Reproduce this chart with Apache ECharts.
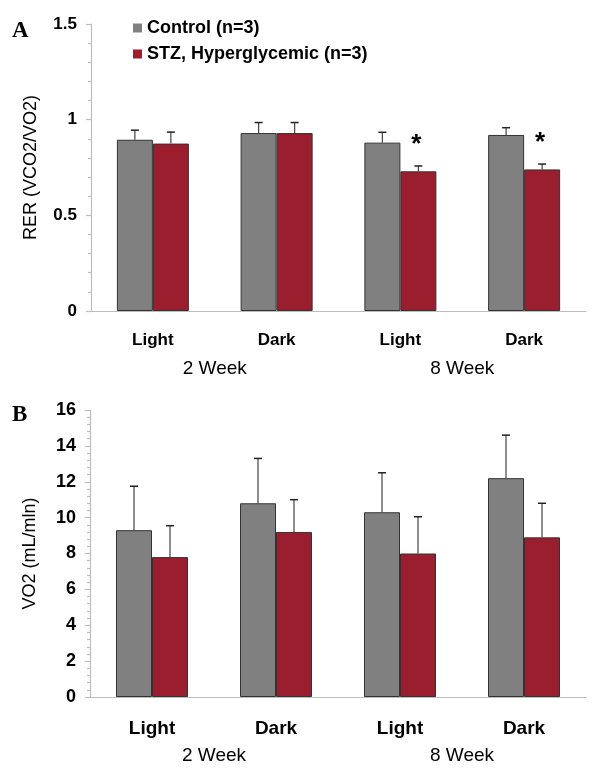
<!DOCTYPE html>
<html>
<head>
    <meta charset="utf-8">
    <title>RER and VO2</title>
    <script src="https://cdn.jsdelivr.net/npm/echarts@6/dist/echarts.min.js"></script>
</head>
<body>
<style>
    html, body, #main {
        width: 100%;
        height: 100%;
        padding: 0;
        margin: 0;
        background: #fff;
    }
</style>
<div id="main"></div>
<script type="text/javascript">

    var categories = ['Light', 'Dark', 'Light', 'Dark'];
    var weeks = ['2 Week', '8 Week'];
    var seriesNames = ['Control (n=3)', 'STZ, Hyperglycemic (n=3)'];

    // panel A - RER
    var rerControl = [0.895, 0.93, 0.88, 0.92];
    var rerControlErr = [0.05, 0.055, 0.054, 0.038];
    var rerStz = [0.875, 0.93, 0.73, 0.74];
    var rerStzErr = [0.06, 0.055, 0.028, 0.028];
    var rerSig = [false, false, true, true];

    // panel B - VO2
    var vo2Control = [9.3, 10.8, 10.3, 12.2];
    var vo2ControlErr = [2.45, 2.5, 2.2, 2.4];
    var vo2Stz = [7.8, 9.2, 8.0, 8.9];
    var vo2StzErr = [1.75, 1.8, 2.05, 1.9];

    var GREY = '#808080';
    var RED = '#9b1e2f';
    var BAR_W = 36;
    var FONT = 'Liberation Sans, Arial, sans-serif';

    var myChart = echarts.init(document.getElementById('main'));

    function errData(vals, errs, sig) {
        return vals.map(function (v, i) {
            return [i, v, errs[i], sig && sig[i] ? 1 : 0];
        });
    }

    function errSeries(gridIdx, vals, errs, offset, sig) {
        return {
            type: 'custom',
            xAxisIndex: gridIdx * 2,
            yAxisIndex: gridIdx,
            z: 5,
            silent: true,
            encode: {x: 0, y: 1},
            data: errData(vals, errs, sig),
            renderItem: function (params, api) {
                var base = api.coord([api.value(0), api.value(1)]);
                var top = api.coord([api.value(0), api.value(1) + api.value(2)]);
                var x = base[0] + offset;
                var children = [
                    {type: 'line', shape: {x1: x, y1: base[1], x2: x, y2: top[1]},
                        style: {stroke: '#444', lineWidth: 1.2}},
                    {type: 'line', shape: {x1: x - 4, y1: top[1], x2: x + 4, y2: top[1]},
                        style: {stroke: '#222', lineWidth: 1.5}}
                ];
                if (api.value(3)) {
                    // significance star above the STZ bar
                    children.push({
                        type: 'text',
                        style: {
                            text: '*', x: x - 2, y: top[1] - 21,
                            fill: '#000', font: 'bold 26px ' + FONT,
                            align: 'center', verticalAlign: 'middle'
                        }
                    });
                }
                return {type: 'group', children: children};
            }
        };
    }

    function barSeries(gridIdx, name, color, vals) {
        return {
            type: 'bar',
            name: name,
            xAxisIndex: gridIdx * 2,
            yAxisIndex: gridIdx,
            barWidth: BAR_W,
            barGap: '0%',
            itemStyle: {color: color, borderColor: '#333', borderWidth: 1},
            data: vals
        };
    }

    var axisLineStyle = {color: '#bdbdbd', width: 1.2};

    function catAxes(gridIdx, fs, fsWeek, margin, marginWeek) {
        return [
            {
                type: 'category',
                gridIndex: gridIdx,
                data: categories,
                axisLine: {lineStyle: axisLineStyle},
                axisTick: {length: 5, lineStyle: axisLineStyle},
                axisLabel: {color: '#000', fontWeight: 'bold', fontSize: fs, fontFamily: FONT, margin: margin}
            },
            {
                type: 'category',
                gridIndex: gridIdx,
                position: 'bottom',
                data: weeks,
                axisLine: {show: false},
                axisTick: {show: false},
                axisLabel: {color: '#000', fontSize: fsWeek, fontFamily: FONT, margin: marginWeek}
            }
        ];
    }

    function valAxis(gridIdx, max, interval, name, fs) {
        return {
            type: 'value',
            gridIndex: gridIdx,
            min: 0,
            max: max,
            interval: interval,
            name: name,
            nameLocation: 'middle',
            nameRotate: 90,
            nameGap: 51,
            nameTextStyle: {color: '#000', fontSize: 18, fontFamily: FONT},
            axisLine: {show: true, lineStyle: axisLineStyle},
            axisTick: {show: true, length: 5, lineStyle: axisLineStyle},
            minorTick: {show: true, splitNumber: 5, length: 3, lineStyle: axisLineStyle},
            splitLine: {show: false},
            axisLabel: {color: '#000', fontWeight: 'bold', fontSize: fs, fontFamily: FONT, margin: 14}
        };
    }

    myChart.setOption({
        animation: false,
        backgroundColor: '#fff',
        textStyle: {fontFamily: FONT},
        legend: {
            data: seriesNames,
            orient: 'vertical',
            left: 128,
            top: 14,
            icon: 'rect',
            itemWidth: 9,
            itemHeight: 9,
            itemGap: 8,
            itemStyle: {borderWidth: 0},
            textStyle: {color: '#000', fontWeight: 'bold', fontSize: 18, lineHeight: 18, fontFamily: FONT}
        },
        graphic: [
            {type: 'text', left: 12, top: 20,
                style: {text: 'A', fill: '#000', font: 'bold 23px Liberation Serif, Times New Roman, serif'}},
            {type: 'text', left: 12, top: 404,
                style: {text: 'B', fill: '#000', font: 'bold 23px Liberation Serif, Times New Roman, serif'}}
        ],
        grid: [
            {left: 91, right: 14, top: 24, height: 287},
            {left: 90, right: 14, top: 410, height: 287}
        ],
        xAxis: catAxes(0, 17, 19, 21, 48).concat(catAxes(1, 19, 19, 22, 49)),
        yAxis: [
            valAxis(0, 1.5, 0.5, 'RER (VCO2/VO2)', 17),
            valAxis(1, 16, 2, 'VO2 (mL/mln)', 18)
        ],
        series: [
            barSeries(0, seriesNames[0], GREY, rerControl),
            barSeries(0, seriesNames[1], RED, rerStz),
            errSeries(0, rerControl, rerControlErr, -BAR_W / 2),
            errSeries(0, rerStz, rerStzErr, BAR_W / 2, rerSig),
            barSeries(1, seriesNames[0], GREY, vo2Control),
            barSeries(1, seriesNames[1], RED, vo2Stz),
            errSeries(1, vo2Control, vo2ControlErr, -BAR_W / 2),
            errSeries(1, vo2Stz, vo2StzErr, BAR_W / 2)
        ]
    });

    window.onresize = function () {
        myChart.resize();
    };
</script>
</body>
</html>
